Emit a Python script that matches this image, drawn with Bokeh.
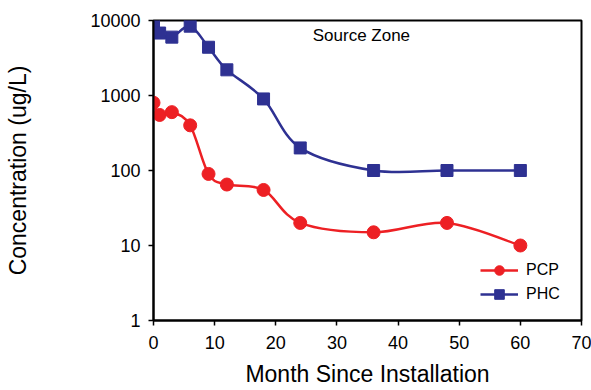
import numpy as np
from bokeh.plotting import figure
from bokeh.models import Range1d, FixedTicker, Label, Legend, LegendItem, ColumnDataSource
from bokeh.embed import file_html
from bokeh.resources import INLINE

months = [0, 1, 3, 6, 9, 12, 18, 24, 36, 48, 60]
pcp = [800, 550, 600, 400, 90, 65, 55, 20, 15, 20, 10]
phc = [9800, 6800, 6000, 8400, 4400, 2200, 900, 200, 100, 100, 100]
x_ticks = [0, 10, 20, 30, 40, 50, 60, 70]
y_ticks = [1, 10, 100, 1000, 10000]

RED = "#ED2024"
BLUE = "#2E3192"
FONT = "Liberation Sans"


def smooth_segments(xs, ys):
    lx = np.array(xs, dtype=float)
    ly = np.log10(np.array(ys, dtype=float))
    n = len(lx)
    d = dict(x0=[], y0=[], x1=[], y1=[], cx0=[], cy0=[], cx1=[], cy1=[])
    for i in range(n - 1):
        im = max(i - 1, 0)
        ip = min(i + 2, n - 1)
        c0x = lx[i] + (lx[i + 1] - lx[im]) / 6.0
        c0y = ly[i] + (ly[i + 1] - ly[im]) / 6.0
        c1x = lx[i + 1] - (lx[ip] - lx[i]) / 6.0
        c1y = ly[i + 1] - (ly[ip] - ly[i]) / 6.0
        d["x0"].append(lx[i]); d["y0"].append(10 ** ly[i])
        d["x1"].append(lx[i + 1]); d["y1"].append(10 ** ly[i + 1])
        d["cx0"].append(c0x); d["cy0"].append(10 ** c0y)
        d["cx1"].append(c1x); d["cy1"].append(10 ** c1y)
    return ColumnDataSource(d)


p = figure(width=591, height=390, y_axis_type="log",
           x_range=Range1d(0, 70), y_range=Range1d(1, 10000),
           output_backend="svg", toolbar_location=None,
           min_border_left=153, min_border_right=10,
           min_border_top=20, min_border_bottom=70)

p.grid.visible = False
p.outline_line_color = "black"
p.outline_line_width = 2
p.background_fill_color = "white"
p.border_fill_color = "white"

for ax in (p.xaxis[0], p.yaxis[0]):
    ax.axis_line_width = 2
    ax.axis_line_color = "black"
    ax.major_tick_line_width = 1.5
    ax.major_tick_line_color = "black"
    ax.major_tick_out = 5
    ax.major_tick_in = 0
    ax.minor_tick_line_color = None
    ax.major_label_text_font = FONT
    ax.major_label_text_font_size = "18px"
    ax.major_label_text_color = "black"
    ax.axis_label_text_font = FONT
    ax.axis_label_text_font_size = "23px"
    ax.axis_label_text_font_style = "normal"
    ax.axis_label_text_color = "black"

p.xaxis.ticker = FixedTicker(ticks=x_ticks)
p.yaxis.ticker = FixedTicker(ticks=y_ticks)
p.yaxis.major_label_overrides = {t: str(t) for t in y_ticks}
p.xaxis.axis_label = "Month Since Installation"
p.yaxis.axis_label = "Concentration (ug/L)"
p.xaxis.major_label_standoff = 10
p.xaxis.axis_label_standoff = 9
p.yaxis.major_label_standoff = 8
p.yaxis.axis_label_standoff = 56

src_pcp = smooth_segments(months, pcp)
src_phc = smooth_segments(months, phc)

b1 = p.bezier(x0="x0", y0="y0", x1="x1", y1="y1", cx0="cx0", cy0="cy0",
              cx1="cx1", cy1="cy1", source=src_pcp, line_color=RED, line_width=2.5)
s1 = p.scatter(months, pcp, marker="circle", size=13, fill_color=RED, line_color=RED)
b2 = p.bezier(x0="x0", y0="y0", x1="x1", y1="y1", cx0="cx0", cy0="cy0",
              cx1="cx1", cy1="cy1", source=src_phc, line_color=BLUE, line_width=2.5)
s2 = p.scatter(months, phc, marker="square", size=12, fill_color=BLUE, line_color=BLUE)

legend = Legend(items=[LegendItem(label="PCP", renderers=[b1, s1]),
                       LegendItem(label="PHC", renderers=[b2, s2])],
                location=(327, 14), orientation="vertical",
                border_line_color=None, background_fill_alpha=0,
                label_text_font=FONT, label_text_font_size="16px",
                label_text_color="black",
                glyph_width=38, glyph_height=24, label_standoff=8,
                spacing=-4, padding=0, margin=0)
p.add_layout(legend, "center")

p.add_layout(Label(x=34, y=6300, text="Source Zone", text_font=FONT,
                   text_font_size="17px", text_align="center",
                   text_baseline="middle", text_color="black"))

open("out.html", "w").write(file_html(p, INLINE))
